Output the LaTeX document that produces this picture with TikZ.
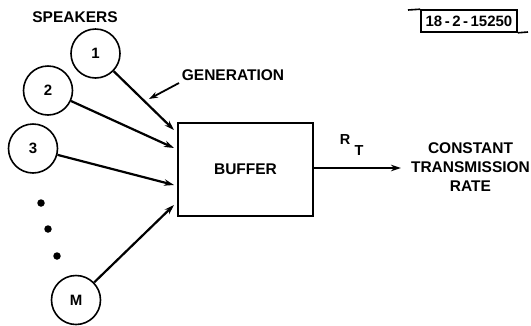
\documentclass[tikz,border=0pt]{standalone}
\usepackage{fontspec}
\setmainfont{Liberation Sans}
\usetikzlibrary{arrows.meta}
\begin{document}
\begin{tikzpicture}[x=1pt,y=-1pt,
  lbl/.style={font=\fontsize{15.5}{19}\selectfont\bfseries, inner sep=0pt},
  spk/.style={circle, draw, line width=1.6pt, minimum size=49pt, inner sep=0pt, font=\fontsize{15}{17}\selectfont\bfseries},
  arr/.style={line width=2.2pt, -{Stealth[length=10pt,width=6.5pt]}},
  dotm/.style={circle, fill, minimum size=7.5pt, inner sep=0pt},
  bufbox/.style={draw, line width=2pt, minimum width=135pt, minimum height=93pt, inner sep=0pt, font=\fontsize{15.5}{19}\selectfont\bfseries}]
\useasboundingbox (0,0) rectangle (531,325);
\fill[white] (0,0) rectangle (531,325);

\node[lbl] (spkl) at (75,17) {SPEAKERS};
\node[spk] (c1) at (95.5,53.5) {1};
\node[spk] (c2) at (48,90.5) {2};
\node[spk] (c3) at (33,148.5) {3};
\node[spk] (cM) at (76,300) {M};
\node[dotm] (d1) at (41,203) {};
\node[dotm] (d2) at (48,229) {};
\node[dotm] (d3) at (57,256) {};

\node[bufbox] (buf) at (245.5,169.5) {BUFFER};

\coordinate (t1) at (174,130);
\coordinate (t2) at (174,148);
\coordinate (t3) at (174,185);
\coordinate (tM) at (174,205);
\draw[arr] (c1) -- (t1);
\draw[arr] (c2) -- (t2);
\draw[arr] (c3) -- (t3);
\draw[arr] (cM) -- (tM);

\node[lbl] (gen) at (233,75) {GENERATION};
\coordinate (g0) at (179,83);
\coordinate (g1) at (149,99);
\draw[line width=1.8pt, -{Stealth[length=9pt,width=6pt]}] (g0) -- (g1);

\coordinate (out) at (401,168);
\draw[arr] (buf.east |- out) -- (out);
\node[font=\fontsize{14.5}{16}\selectfont\bfseries, inner sep=0pt] (rt) at (345,140) {R};
\node[font=\fontsize{14.5}{16}\selectfont\bfseries, inner sep=0pt] (rtt) at (359,151) {T};

\node[lbl, align=center] (ctr) at (470.5,167) {CONSTANT\\TRANSMISSION\\RATE};

\node[draw, line width=1.6pt, minimum width=96pt, minimum height=22pt, inner sep=0pt,
  font=\fontsize{15}{17}\selectfont\bfseries] (id) at (469,21) {18\,-\,2\,-\,15250};
\coordinate (idl) at (408,10);
\coordinate (idr) at (528,32);
\draw[line width=1.6pt] (idl) -- (id.north west);
\draw[line width=1.6pt] (id.south east) -- (idr);
\end{tikzpicture}
\end{document}
